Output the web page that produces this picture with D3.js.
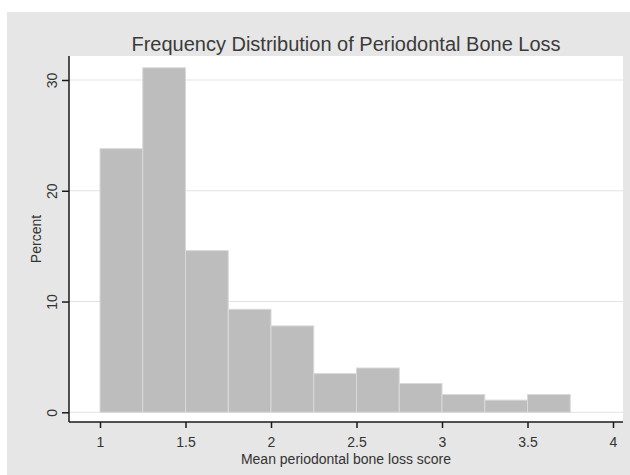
<!DOCTYPE html>
<html>
<head>
<meta charset="utf-8">
<script src="https://cdn.jsdelivr.net/npm/d3@7"></script>
<style>
    body { margin: 0; background: #fff; }
    text { font-family: 'Liberation Sans', Arial, sans-serif; fill: #333; }
</style>
</head>
<body>
<svg id="chart"></svg>
<script>
// bins of width 0.25 starting at 1
const binStarts = [1, 1.25, 1.5, 1.75, 2, 2.25, 2.5, 2.75, 3, 3.25, 3.5];
const percents = [23.8, 31.1, 14.6, 9.3, 7.8, 3.5, 4.0, 2.6, 1.6, 1.1, 1.6];
const binWidth = 0.25;
const xTicks = [1, 1.5, 2, 2.5, 3, 3.5, 4];
const yTicks = [0, 10, 20, 30];

const w = 630, h = 475;
const plot = { left: 69, right: 623, top: 56, bottom: 422 };

const xScale = d3.scaleLinear()
    .domain([1, 4])
    .range([100, 613]);

const yScale = d3.scaleLinear()
    .domain([0, 30])
    .range([412.3, 80]);

const chart = d3.select('#chart')
    .attr('width', w)
    .attr('height', h);

// outer graph region
chart.append('rect')
    .attr('x', 7).attr('y', 12)
    .attr('width', w - 7).attr('height', h - 12)
    .style('fill', '#e6e6e6');

// plot region
chart.append('rect')
    .attr('x', plot.left).attr('y', plot.top)
    .attr('width', plot.right - plot.left).attr('height', plot.bottom - plot.top)
    .style('fill', '#fff');

// grid lines
chart.append('g')
    .selectAll('line')
    .data(yTicks)
    .join('line')
    .attr('x1', plot.left).attr('x2', plot.right)
    .attr('y1', d => yScale(d)).attr('y2', d => yScale(d))
    .style('stroke', '#e3e3e3')
    .style('stroke-width', 1);

// bars
chart.append('g')
    .selectAll('rect')
    .data(binStarts)
    .join('rect')
    .attr('x', d => xScale(d))
    .attr('y', (d, i) => yScale(percents[i]))
    .attr('width', d => xScale(d + binWidth) - xScale(d))
    .attr('height', (d, i) => yScale(0) - yScale(percents[i]))
    .style('fill', '#bdbdbd')
    .style('stroke', '#d9d9d9')
    .style('stroke-width', 1);

// y axis
const yAxis = chart.append('g')
    .attr('transform', `translate(${plot.left},0)`)
    .call(d3.axisLeft(yScale).tickValues(yTicks).tickSize(7).tickSizeOuter(0).tickPadding(5));
yAxis.select('.domain').attr('d', `M0,${plot.top}V${plot.bottom}`);
yAxis.selectAll('text')
    .attr('font-size', '14px')
    .attr('transform', 'rotate(-90)')
    .attr('x', 0)
    .attr('y', -12.5)
    .attr('dy', 0)
    .style('text-anchor', 'middle');

// x axis
const xAxis = chart.append('g')
    .attr('transform', `translate(0,${plot.bottom})`)
    .call(d3.axisBottom(xScale).tickValues(xTicks).tickFormat(d3.format('')).tickSize(6).tickSizeOuter(0));
xAxis.select('.domain').attr('d', `M${plot.left},0H${plot.right}`);
xAxis.selectAll('text')
    .attr('font-size', '14px')
    .attr('y', 25)
    .attr('dy', 0);

chart.selectAll('.domain, .tick line')
    .style('stroke', '#1a1a1a')
    .style('stroke-width', 1.5);
chart.selectAll('.tick text').style('fill', '#333');

const midX = (plot.left + plot.right) / 2;

chart.append('text')
    .attr('x', midX).attr('y', 51)
    .attr('font-size', '20px')
    .attr('text-anchor', 'middle')
    .style('fill', '#3a3a3a')
    .text('Frequency Distribution of Periodontal Bone Loss');

chart.append('text')
    .attr('x', midX).attr('y', 464)
    .attr('font-size', '14px')
    .attr('text-anchor', 'middle')
    .text('Mean periodontal bone loss score');

chart.append('text')
    .attr('transform', `translate(41,${(plot.top + plot.bottom) / 2}) rotate(-90)`)
    .attr('font-size', '14px')
    .attr('text-anchor', 'middle')
    .text('Percent');
</script>
</body>
</html>
